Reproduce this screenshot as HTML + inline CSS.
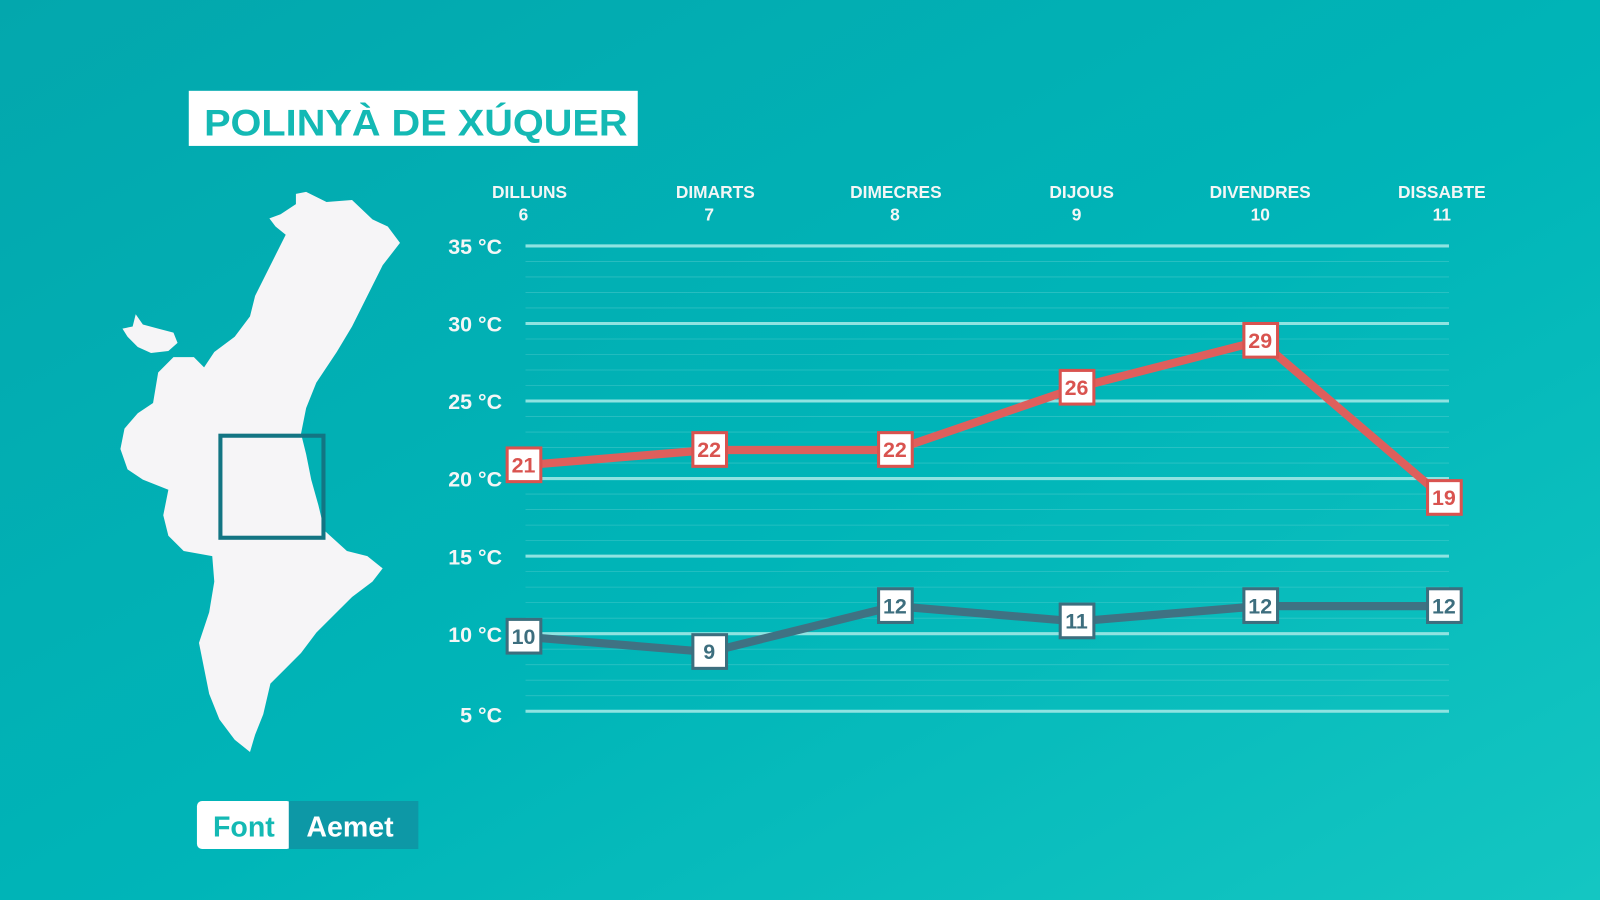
<!DOCTYPE html>
<html><head><meta charset="utf-8"><style>
html,body{margin:0;padding:0;width:1600px;height:900px;overflow:hidden}
svg{display:block}
text{font-family:"Liberation Sans",sans-serif;font-weight:bold}
</style></head><body>
<svg width="1600" height="900" viewBox="0 0 1568 882" xmlns="http://www.w3.org/2000/svg">
<defs>
<linearGradient id="bg" x1="0" y1="0" x2="1" y2="1">
<stop offset="0" stop-color="#03a7ad"/><stop offset="0.55" stop-color="#00b5b8"/><stop offset="1" stop-color="#14c6c2"/>
</linearGradient>
</defs>
<rect width="1568" height="882" fill="url(#bg)"/>
<rect x="185" y="89" width="440" height="54" fill="#fff"/>
<text x="200" y="133" font-size="36" fill="#14b9b4" textLength="415" lengthAdjust="spacingAndGlyphs">POLINYÀ DE XÚQUER</text>
<path fill="#f6f5f7" d="M290,190 L300,188 L320,198 L345,196 L365,215 L380,222 L392,238 L375,260 L360,290 L345,320 L330,345 L310,375 L300,400 L295,425 L300,445 L305,470 L312,495 L318,520 L340,540 L360,545 L375,557 L365,570 L345,585 L330,600 L310,620 L295,640 L280,655 L265,670 L258,700 L250,720 L245,737 L230,725 L215,705 L205,680 L200,655 L195,630 L205,600 L210,570 L208,545 L180,540 L165,525 L160,505 L165,480 L140,470 L125,460 L118,440 L122,420 L135,405 L150,395 L155,365 L170,350 L190,350 L200,360 L210,345 L230,330 L245,310 L250,290 L260,270 L270,250 L280,230 L270,222 L264,214 L275,210 L290,200 Z"/>
<path fill="#f6f5f7" d="M120,322 L130,320 L133,308 L140,318 L155,322 L170,326 L174,336 L165,344 L148,346 L135,340 L125,330 Z"/>
<rect x="216" y="427" width="101" height="100" fill="none" stroke="#137583" stroke-width="4"/>
<rect x="193" y="785" width="93" height="47" rx="5" fill="#fff"/>
<rect x="283" y="785" width="127" height="47" fill="#0d98a6"/>
<text x="239" y="820" font-size="28" fill="#14b9b4" text-anchor="middle" font-weight="normal">Font</text>
<text x="343" y="820" font-size="28" fill="#fff" text-anchor="middle" font-weight="normal">Aemet</text>
<g stroke="#7fd9d9" stroke-width="0.8" opacity="0.35">
<line x1="515" y1="256.2" x2="1420" y2="256.2"/><line x1="515" y1="271.4" x2="1420" y2="271.4"/><line x1="515" y1="286.6" x2="1420" y2="286.6"/><line x1="515" y1="301.8" x2="1420" y2="301.8"/>
<line x1="515" y1="332.2" x2="1420" y2="332.2"/><line x1="515" y1="347.4" x2="1420" y2="347.4"/><line x1="515" y1="362.6" x2="1420" y2="362.6"/><line x1="515" y1="377.8" x2="1420" y2="377.8"/>
<line x1="515" y1="408.2" x2="1420" y2="408.2"/><line x1="515" y1="423.4" x2="1420" y2="423.4"/><line x1="515" y1="438.6" x2="1420" y2="438.6"/><line x1="515" y1="453.8" x2="1420" y2="453.8"/>
<line x1="515" y1="484.2" x2="1420" y2="484.2"/><line x1="515" y1="499.4" x2="1420" y2="499.4"/><line x1="515" y1="514.6" x2="1420" y2="514.6"/><line x1="515" y1="529.8" x2="1420" y2="529.8"/>
<line x1="515" y1="560.2" x2="1420" y2="560.2"/><line x1="515" y1="575.4" x2="1420" y2="575.4"/><line x1="515" y1="590.6" x2="1420" y2="590.6"/><line x1="515" y1="605.8" x2="1420" y2="605.8"/>
<line x1="515" y1="636.2" x2="1420" y2="636.2"/><line x1="515" y1="651.4" x2="1420" y2="651.4"/><line x1="515" y1="666.6" x2="1420" y2="666.6"/><line x1="515" y1="681.8" x2="1420" y2="681.8"/>
</g>
<g stroke="#8fe3e1" stroke-width="3">
<line x1="515" y1="241" x2="1420" y2="241"/><line x1="515" y1="317" x2="1420" y2="317"/><line x1="515" y1="393" x2="1420" y2="393"/><line x1="515" y1="469" x2="1420" y2="469"/><line x1="515" y1="545" x2="1420" y2="545"/><line x1="515" y1="621" x2="1420" y2="621"/><line x1="515" y1="697" x2="1420" y2="697"/>
</g>
<g font-size="21" fill="#f4f6f6" text-anchor="end">
<text x="492" y="249">35 °C</text><text x="492" y="325">30 °C</text><text x="492" y="401">25 °C</text><text x="492" y="477">20 °C</text><text x="492" y="553">15 °C</text><text x="492" y="629">10 °C</text><text x="492" y="708">5 °C</text>
</g>
<g font-size="17" fill="#f4f6f6" text-anchor="middle">
<text x="519" y="194">DILLUNS</text><text x="513" y="216">6</text>
<text x="701" y="194">DIMARTS</text><text x="695" y="216">7</text>
<text x="878" y="194">DIMECRES</text><text x="877" y="216">8</text>
<text x="1060" y="194">DIJOUS</text><text x="1055" y="216">9</text>
<text x="1235" y="194">DIVENDRES</text><text x="1235" y="216">10</text>
<text x="1413" y="194">DISSABTE</text><text x="1413" y="216">11</text>
</g>
<polyline fill="none" stroke="#de5f5c" stroke-width="8" stroke-linejoin="round" points="513,456 695,441 877,441 1055,380 1235,334 1415,488"/>
<polyline fill="none" stroke="#3f7283" stroke-width="8" stroke-linejoin="round" points="513,624 695,639 877,594 1055,609 1235,594 1415,594"/>
<g font-size="21" text-anchor="middle">
<g fill="#fff" stroke="#d9534f" stroke-width="3">
<rect x="497" y="439" width="33" height="33"/><rect x="679" y="424" width="33" height="33"/><rect x="861" y="424" width="33" height="33"/><rect x="1039" y="363" width="33" height="33"/><rect x="1219" y="317" width="33" height="33"/><rect x="1399" y="471" width="33" height="33"/>
</g>
<g fill="#d9534f">
<text x="513" y="463">21</text><text x="695" y="448">22</text><text x="877" y="448">22</text><text x="1055" y="387">26</text><text x="1235" y="341">29</text><text x="1415" y="495">19</text>
</g>
<g fill="#fff" stroke="#3d6e7e" stroke-width="3">
<rect x="497" y="607" width="33" height="33"/><rect x="679" y="622" width="33" height="33"/><rect x="861" y="577" width="33" height="33"/><rect x="1039" y="592" width="33" height="33"/><rect x="1219" y="577" width="33" height="33"/><rect x="1399" y="577" width="33" height="33"/>
</g>
<g fill="#3d6e7e">
<text x="513" y="631">10</text><text x="695" y="646">9</text><text x="877" y="601">12</text><text x="1055" y="616">11</text><text x="1235" y="601">12</text><text x="1415" y="601">12</text>
</g>
</g>
</svg>
</body></html>
